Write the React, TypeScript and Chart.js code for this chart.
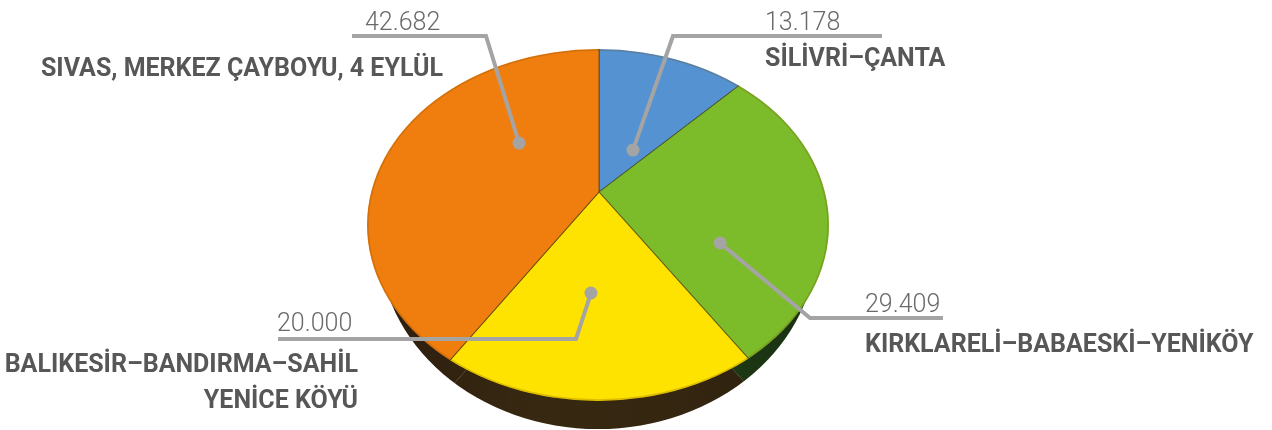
import React, { useEffect, useRef } from "react";
import { Chart, registerables } from "chart.js";

Chart.register(...registerables);

// ---- data ----
const categories: string[][] = [
  ["SİLİVRİ–ÇANTA"],
  ["KIRKLARELİ–BABAESKİ–YENİKÖY"],
  ["BALIKESİR–BANDIRMA–SAHİL", "YENİCE KÖYÜ"],
  ["SIVAS, MERKEZ ÇAYBOYU, 4 EYLÜL"],
];
const values: number[] = [13.178, 29.409, 20.0, 42.682];

// ---- styles ----
const faceColors = ["#5592d1", "#7cbc2a", "#fee300", "#ef7e0f"];
const sideColors = ["#1f3a5a", "#234419", "#3a2a12", "#3b2813"];

// ---- layout ----
const HX = 599; // hub (perspective apex)
const HY = 192;
const CX = 598; // top face ellipse
const CY = 225;
const RX = 231;
const RY = 176;
const BX = 598; // bottom (side) ellipse
const BY = 241;
const BRX = 219;
const BRY = 188;
const R = 231;
const BIG = 300;
const K = 0.762;
const DEPTH = 28;

type LabelLayout = {
  t: number;
  f: number;
  elbow: [number, number];
  endX: number;
  valueX: number;
  valueY: number;
  textX: number;
  textY: number;
  textAlign: CanvasTextAlign;
};

const labelLayout: LabelLayout[] = [
  { t: 0.703, f: 0.28, elbow: [673, 36], endX: 882, valueX: 765, valueY: 30, textX: 765, textY: 66, textAlign: "left" },
  { t: 0.734, f: 0.599, elbow: [810, 318], endX: 943, valueX: 865, valueY: 312, textX: 865, textY: 352, textAlign: "left" },
  { t: 0.553, f: 0.575, elbow: [576, 339], endX: 278, valueX: 277, valueY: 331, textX: 358, textY: 372, textAlign: "right" },
  { t: 0.649, f: 0.444, elbow: [486, 36], endX: 352, valueX: 365, valueY: 30, textX: 443, textY: 76, textAlign: "right" },
];

const pie3d = {
  id: "pie3d",
  beforeDatasetsDraw(chart: any) {
    const ctx: CanvasRenderingContext2D = chart.ctx;
    const arcs = chart.getDatasetMeta(0).data;

    // side wall: the same slices, shifted down and clipped to the lower ellipse
    ctx.save();
    ctx.beginPath();
    ctx.ellipse(BX, BY, BRX, BRY, 0, 0, Math.PI * 2);
    ctx.clip();
    arcs.forEach((arc: any, i: number) => {
      ctx.save();
      ctx.translate(HX, HY + DEPTH);
      ctx.scale(1, K);
      ctx.beginPath();
      ctx.moveTo(0, 0);
      ctx.arc(0, 0, BIG, arc.startAngle, arc.endAngle);
      ctx.closePath();
      ctx.restore();
      ctx.fillStyle = sideColors[i];
      ctx.fill();
    });
    const g = ctx.createLinearGradient(BX - BRX, 0, BX + BRX, 0);
    g.addColorStop(0, "rgba(0,0,0,0.25)");
    g.addColorStop(0.35, "rgba(0,0,0,0.05)");
    g.addColorStop(0.7, "rgba(0,0,0,0.1)");
    g.addColorStop(1, "rgba(0,0,0,0.3)");
    ctx.fillStyle = g;
    ctx.fillRect(BX - BRX, BY - BRY, BRX * 2, BRY * 2);
    ctx.restore();

    // top face: clip to the top ellipse, slices radiate from the hub
    const a0 = arcs[0];
    ctx.save();
    ctx.beginPath();
    ctx.ellipse(CX, CY, RX, RY, 0, 0, Math.PI * 2);
    ctx.clip();
    ctx.translate(HX, HY);
    ctx.scale(1, K);
    ctx.translate(-a0.x, -a0.y);
  },
  afterDatasetsDraw(chart: any) {
    const ctx: CanvasRenderingContext2D = chart.ctx;
    ctx.restore();
    // faint rim on the top face
    ctx.save();
    ctx.beginPath();
    ctx.ellipse(CX, CY, RX - 1, RY - 1, 0, 0, Math.PI * 2);
    ctx.strokeStyle = "rgba(120,70,0,0.25)";
    ctx.lineWidth = 1.5;
    ctx.stroke();
    ctx.restore();

    const arcs = chart.getDatasetMeta(0).data;
    arcs.forEach((arc: any, i: number) => {
      const L = labelLayout[i];
      const ang = arc.startAngle + L.t * (arc.endAngle - arc.startAngle);
      const r = L.f * R;
      const dx = HX + Math.cos(ang) * r;
      const dy = HY + Math.sin(ang) * r * K;
      ctx.save();
      ctx.strokeStyle = "#a4a4a4";
      ctx.fillStyle = "#a4a4a4";
      ctx.lineWidth = 4;
      ctx.lineJoin = "miter";
      ctx.beginPath();
      ctx.moveTo(dx, dy);
      ctx.lineTo(L.elbow[0], L.elbow[1]);
      ctx.lineTo(L.endX, L.elbow[1]);
      ctx.stroke();
      ctx.beginPath();
      ctx.arc(dx, dy, 6.5, 0, Math.PI * 2);
      ctx.fill();

      ctx.fillStyle = "#6a6a6a";
      ctx.font = "300 25px Roboto";
      ctx.textAlign = "left";
      ctx.textBaseline = "alphabetic";
      ctx.fillText(values[i].toFixed(3), L.valueX, L.valueY);

      ctx.fillStyle = "#575757";
      ctx.font = "bold 25px Roboto";
      ctx.textAlign = L.textAlign;
      categories[i].forEach((s, j) => ctx.fillText(s, L.textX, L.textY + j * 36));
      ctx.restore();
    });
  },
};

export default function App() {
  const ref = useRef<HTMLCanvasElement | null>(null);
  useEffect(() => {
    if (!ref.current) return;
    const chart = new Chart(ref.current, {
      type: "pie",
      data: {
        labels: categories.map((c) => c.join(" ")),
        datasets: [
          {
            data: values,
            backgroundColor: faceColors,
            borderColor: "rgba(70,55,20,0.55)",
            borderWidth: 1.2,
            radius: BIG,
            clip: false as any,
          },
        ],
      },
      options: {
        responsive: false,
        devicePixelRatio: 1,
        animation: false,
        events: [],
        layout: { padding: 0 },
        plugins: {
          legend: { display: false },
          tooltip: { enabled: false },
          title: { display: false },
        },
      },
      plugins: [pie3d],
    });
    return () => chart.destroy();
  }, []);
  return (
    <div style={{ position: "absolute", left: 0, top: 0, width: 1272, height: 430, overflow: "hidden", background: "#fff" }}>
      <canvas ref={ref} width={1272} height={430} style={{ width: 1272, height: 430, display: "block" }} />
    </div>
  );
}
